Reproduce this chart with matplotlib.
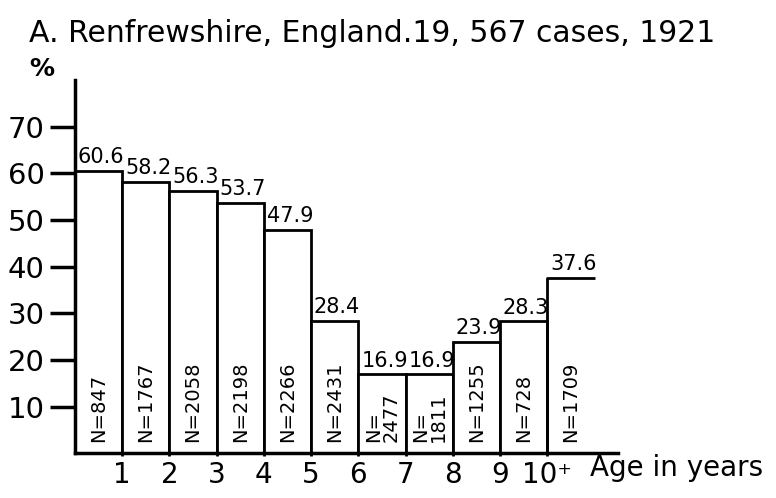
import matplotlib
matplotlib.use('Agg')
import matplotlib.pyplot as plt

# data
ages = [0, 1, 2, 3, 4, 5, 6, 7, 8, 9, 10]
percent = [60.6, 58.2, 56.3, 53.7, 47.9, 28.4, 16.9, 16.9, 23.9, 28.3, 37.6]
n_labels = ['N=847', 'N=1767', 'N=2058', 'N=2198', 'N=2266', 'N=2431',
            'N=\n2477', 'N=\n1811', 'N=1255', 'N=728', 'N=1709']
x_ticks = [1, 2, 3, 4, 5, 6, 7, 8, 9, 10]
x_ticklabels = ['1', '2', '3', '4', '5', '6', '7', '8', '9', '10\u207a']
y_ticks = [10, 20, 30, 40, 50, 60, 70]

plt.rcParams['font.family'] = ['DejaVu Sans']

fig = plt.figure(figsize=(7.76, 4.98), dpi=100)
ax = fig.add_axes([0.0966, 0.090, 0.70, 0.749])

# closed bars for 0..9, open-ended last bar (10+)
ax.bar(ages[:-1], percent[:-1], width=1, align='edge', color='white',
       edgecolor='black', linewidth=2, zorder=2)
last_x, last_y = ages[-1], percent[-1]
ax.plot([last_x, last_x, last_x + 1], [0, last_y, last_y], color='black',
        lw=2, solid_capstyle='butt', zorder=2)

for x, p, n in zip(ages, percent, n_labels):
    ax.text(x + 0.06, p + 0.8, f'{p:.1f}', ha='left', va='bottom', fontsize=15)
    ax.text(x + 0.5, 2.4, n, rotation=90, ha='center', va='bottom',
            fontsize=14, multialignment='left', linespacing=0.9)

ax.set_xlim(0, 11.5)
ax.set_ylim(0, 80)
ax.spines['top'].set_visible(False)
ax.spines['right'].set_visible(False)
ax.spines['left'].set_linewidth(2.5)
ax.spines['bottom'].set_linewidth(2.5)

ax.set_yticks(y_ticks)
ax.set_yticklabels([str(v) for v in y_ticks], fontsize=21)
ax.tick_params(axis='y', length=18, width=2.5, direction='out', pad=4)
ax.set_xticks(x_ticks)
ax.set_xticklabels(x_ticklabels, fontsize=20)
ax.tick_params(axis='x', length=5, width=2, direction='inout', pad=3)

fig.text(0.760, 0.088, 'Age in years', fontsize=20, ha='left', va='top')
fig.text(0.038, 0.838, '%', fontsize=18, fontweight='bold', ha='left', va='bottom')
fig.text(0.038, 0.903, 'A. Renfrewshire, England.19, 567 cases, 1921',
         fontsize=21.5, ha='left', va='bottom')

fig.savefig('out.png', dpi=100)
